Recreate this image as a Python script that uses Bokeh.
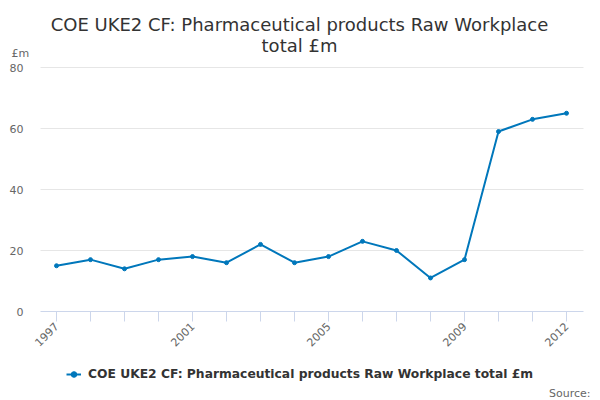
import math
from bokeh.plotting import figure
from bokeh.models import Range1d, FixedTicker, Legend, LegendItem, Label
from bokeh.embed import file_html
from bokeh.resources import INLINE

years = list(range(1997, 2013))
values = [15, 17, 14, 17, 18, 16, 22, 16, 18, 23, 20, 11, 17, 59, 63, 65]
labeled_years = [1997, 2001, 2005, 2009, 2012]
y_ticks = [0, 20, 40, 60, 80]
series_name = "COE UKE2 CF: Pharmaceutical products Raw Workplace total £m"
title_lines = ["COE UKE2 CF: Pharmaceutical products Raw Workplace", "total £m"]
unit_label = "£m"
source_label = "Source:"

FONT = "DejaVu Sans"
BLUE = "#0077bb"

W, H = 592, 400
PX_PER_YEAR = 34.0
PX_PER_UNIT = 3.05
X0 = 1997 - 56 / PX_PER_YEAR            # canvas left edge in data units
Y_TOP = 80 + 67 / PX_PER_UNIT           # canvas top edge in data units
PLOT_X0 = X0 + 40 / PX_PER_YEAR         # left edge of plotting area
PLOT_X1 = X0 + 583 / PX_PER_YEAR        # right edge of plotting area

p = figure(width=W, height=H, output_backend="svg", toolbar_location=None, title=None,
           x_range=Range1d(X0, X0 + W / PX_PER_YEAR),
           y_range=Range1d(Y_TOP - H / PX_PER_UNIT, Y_TOP),
           min_border=0)
p.outline_line_color = None
p.background_fill_color = "white"
p.border_fill_color = "white"
p.xgrid.visible = False
p.ygrid.visible = False

# horizontal grid lines limited to the plotting area
grid_y = y_ticks[1:]
p.segment(x0=[PLOT_X0] * len(grid_y), x1=[PLOT_X1] * len(grid_y), y0=grid_y, y1=grid_y,
          line_color="#e6e6e6", line_width=1, level="underlay")

line_r = p.line(years, values, line_color=BLUE, line_width=2)
pts_r = p.scatter(years, values, size=4, fill_color=BLUE, line_color=BLUE)

# x axis
xa = p.xaxis[0]
xa.fixed_location = 0
xa.bounds = (PLOT_X0, PLOT_X1)
xa.ticker = FixedTicker(ticks=years)
xa.major_label_overrides = {y: (str(y) if y in labeled_years else "") for y in years}
xa.major_label_orientation = math.pi / 4
xa.axis_line_color = "#ccd6eb"
xa.major_tick_line_color = "#ccd6eb"
xa.major_tick_out = 10
xa.major_tick_in = 0
xa.minor_tick_line_color = None
xa.major_label_text_font = FONT
xa.major_label_text_font_size = "11px"
xa.major_label_text_color = "#666666"
xa.major_label_standoff = 3

# y axis
ya = p.yaxis[0]
ya.fixed_location = PLOT_X0
ya.bounds = (0, 80)
ya.ticker = FixedTicker(ticks=y_ticks)
ya.axis_line_color = None
ya.major_tick_line_color = None
ya.major_tick_out = 0
ya.major_tick_in = 0
ya.minor_tick_line_color = None
ya.major_label_text_font = FONT
ya.major_label_text_font_size = "11px"
ya.major_label_text_color = "#666666"
ya.major_label_standoff = 17

# title
for i, t in enumerate(title_lines):
    p.add_layout(Label(x=299, y=376 - 21 * i, x_units="screen", y_units="screen", text=t,
                       text_align="center", text_baseline="alphabetic", text_font=FONT,
                       text_font_size="18px", text_color="#333333"))

p.add_layout(Label(x=11, y=347, x_units="screen", y_units="screen", text=unit_label,
                   text_align="left", text_baseline="middle", text_font=FONT,
                   text_font_size="11px", text_color="#666666"))

p.add_layout(Label(x=590, y=7, x_units="screen", y_units="screen", text=source_label,
                   text_align="right", text_baseline="alphabetic", text_font=FONT,
                   text_font_size="11px", text_color="#666666"))

legend = Legend(items=[LegendItem(label=series_name, renderers=[line_r, pts_r])],
                location=(66, 19), orientation="horizontal",
                glyph_width=15, glyph_height=14, label_standoff=7, padding=0, margin=0,
                spacing=0, label_height=14,
                border_line_color=None, background_fill_alpha=0,
                label_text_font=FONT, label_text_font_size="12.3px",
                label_text_font_style="bold", label_text_color="#333333")
p.add_layout(legend, "center")

open("out.html", "w").write(file_html(p, INLINE))
